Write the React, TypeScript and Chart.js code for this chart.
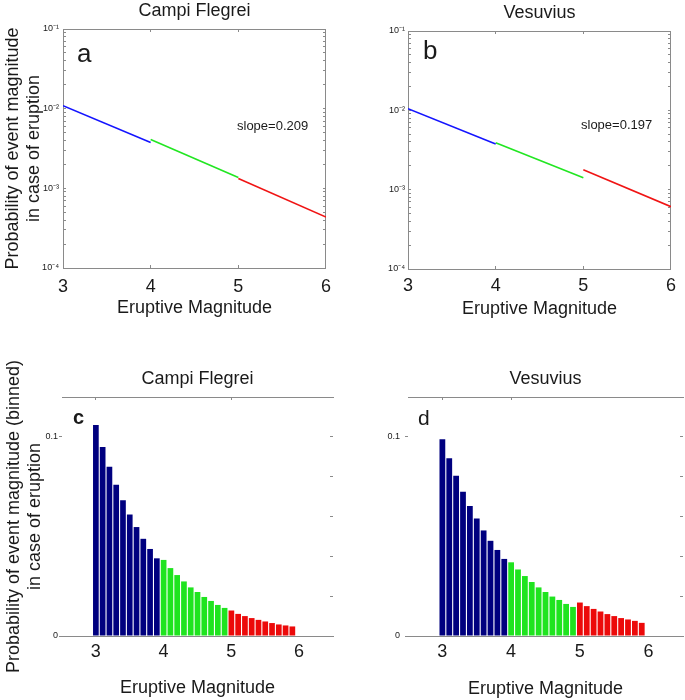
import React, { useEffect, useRef } from 'react';
import { Chart, registerables } from 'chart.js';

Chart.register(...registerables);

const FONT = '"Liberation Sans", Arial, Helvetica, sans-serif';
const TEXT = '#1a1a1a';
const AXIS = '#8a8a8a';

// ---- text ----
const volcanoes = ['Campi Flegrei', 'Vesuvius'];
const panelLetters = ['a', 'b', 'c', 'd'];
const slopeLabels = ['slope=0.209', 'slope=0.197'];
const xAxisTitle = 'Eruptive Magnitude';
const yTitleTop = ['Probability of event magnitude', 'in case of eruption'];
const yTitleBottom = ['Probability of event magnitude (binned)', 'in case of eruption'];

// ---- ticks ----
const magnitudeTicks = [3, 4, 5, 6];
const logMajorTicks = [1e-4, 1e-3, 1e-2, 1e-1];
const logTickLabels = ['10⁻⁴', '10⁻³', '10⁻²', '10⁻¹'];
const logMinorMantissas = [2, 3, 4, 5, 6, 7, 8, 9];
const binnedTickValues = [0, 0.1];
const binnedTickLabels = ['0', '0.1'];
const binnedMinorTicks = [0.02, 0.04, 0.06, 0.08, 0.1];
const topTicksC = [3, 5];
const topTicksD = [3, 4];

// ---- panels a, b: segment end points ----
const segBlueX = [3, 4];
const segGreenX = [4, 5];
const segRedX = [5, 6];
const cfBlue = [1.09e-2, 3.76e-3];
const cfGreen = [4.1e-3, 1.37e-3];
const cfRed = [1.33e-3, 4.35e-4];
const vesBlue = [1.05e-2, 3.76e-3];
const vesGreen = [3.9e-3, 1.41e-3];
const vesRed = [1.78e-3, 6.1e-4];

// ---- panels c, d: binned probabilities ----
const binsBlue = [3.0, 3.1, 3.2, 3.3, 3.4, 3.5, 3.6, 3.7, 3.8, 3.9];
const binsGreen = [4.0, 4.1, 4.2, 4.3, 4.4, 4.5, 4.6, 4.7, 4.8, 4.9];
const binsRed = [5.0, 5.1, 5.2, 5.3, 5.4, 5.5, 5.6, 5.7, 5.8, 5.9];
const cfBinBlue = [0.106, 0.0949, 0.085, 0.0759, 0.0681, 0.061, 0.0547, 0.0488, 0.0437, 0.039];
const cfBinGreen = [0.0382, 0.0341, 0.0306, 0.0274, 0.0244, 0.0221, 0.0196, 0.0176, 0.0156, 0.0141];
const cfBinRed = [0.0128, 0.0111, 0.01, 0.009, 0.0081, 0.0073, 0.0065, 0.0058, 0.0053, 0.0048];
const vesBinBlue = [0.0988, 0.0892, 0.0804, 0.0724, 0.0653, 0.059, 0.053, 0.0478, 0.0432, 0.0387];
const vesBinGreen = [0.037, 0.0334, 0.0301, 0.0271, 0.0244, 0.0221, 0.0198, 0.0181, 0.0161, 0.0146];
const vesBinRed = [0.0168, 0.015, 0.0136, 0.0123, 0.011, 0.01, 0.009, 0.0083, 0.0076, 0.0066];

const LINE_BLUE = '#1414ff';
const LINE_GREEN = '#22e622';
const LINE_RED = '#f01414';
const BAR_BLUE = '#00007f';
const BAR_GREEN = '#1fe41f';
const BAR_RED = '#ec0a0a';

const allLogTicks: number[] = [];
logMajorTicks.forEach((m, i) => {
  allLogTicks.push(m);
  if (i < logMajorTicks.length - 1) logMinorMantissas.forEach((k) => allLogTicks.push(k * m));
});

const f = (size: number, weight: string = 'normal') => ({ family: FONT, size, weight, lineHeight: 1.2 });

function setTicks(values: number[]) {
  return (s: any) => {
    s.ticks = values.map((v) => ({ value: v }));
  };
}

function textPlugin(items: { text: string; dx: number; dy: number; font: string }[]) {
  return {
    id: 'panelText',
    afterDraw(chart: any) {
      const { ctx, chartArea } = chart;
      ctx.save();
      ctx.fillStyle = TEXT;
      ctx.textAlign = 'left';
      ctx.textBaseline = 'alphabetic';
      items.forEach((it) => {
        ctx.font = it.font;
        ctx.fillText(it.text, chartArea.left + it.dx, chartArea.top + it.dy);
      });
      ctx.restore();
    },
  };
}

function logLabel(v: number) {
  const i = logMajorTicks.findIndex((m) => Math.abs(m - v) / m < 1e-6);
  return i >= 0 ? logTickLabels[i] : '';
}

function seg(xs: number[], ys: number[], color: string) {
  return {
    data: xs.map((x, i) => ({ x, y: ys[i] })),
    borderColor: color,
    backgroundColor: color,
    borderWidth: 1.6,
    pointRadius: 0,
    tension: 0,
    fill: false,
  };
}

function bars(xs: number[], ys: number[], color: string) {
  return {
    data: xs.map((x, i) => ({ x, y: ys[i] })),
    backgroundColor: color,
    borderWidth: 0,
    grouped: false,
    barPercentage: 0.84,
    categoryPercentage: 1,
  };
}

type Geo = {
  wl: number; wr: number; ht: number; hb: number;
  xtp: number; xtb: number; ttp: number; ytp: number;
};

function logConfig(title: string, blue: number[], green: number[], red: number[], g: Geo, showYTitle: boolean, texts: any[]) {
  return {
    type: 'line',
    data: { datasets: [seg(segBlueX, blue, LINE_BLUE), seg(segGreenX, green, LINE_GREEN), seg(segRedX, red, LINE_RED)] },
    options: {
      responsive: false,
      animation: false,
      devicePixelRatio: 1,
      layout: { padding: 0, autoPadding: false },
      plugins: { legend: { display: false }, tooltip: { enabled: false }, title: { display: false } },
      scales: {
        x: {
          type: 'linear', position: 'bottom', min: 3, max: 6,
          afterBuildTicks: setTicks(magnitudeTicks),
          afterFit: (s: any) => { s.height = g.hb; },
          ticks: { font: f(18), color: TEXT, padding: g.xtp, autoSkip: false, maxRotation: 0, callback: (v: number) => String(v) },
          grid: { drawOnChartArea: false, tickLength: -3, color: AXIS },
          border: { color: AXIS },
          title: { display: true, text: xAxisTitle, font: f(18), color: TEXT, padding: { top: 0, bottom: g.xtb } },
        },
        x2: {
          type: 'linear', position: 'top', min: 3, max: 6,
          afterBuildTicks: setTicks(magnitudeTicks),
          afterFit: (s: any) => { s.height = g.ht; },
          ticks: { display: false },
          grid: { drawOnChartArea: false, tickLength: -3, color: AXIS },
          border: { color: AXIS },
          title: { display: true, text: title, font: f(18), color: TEXT, padding: { top: g.ttp, bottom: 0 } },
        },
        y: {
          type: 'logarithmic', position: 'left', min: 1e-4, max: 1e-1,
          afterBuildTicks: setTicks(allLogTicks),
          afterFit: (s: any) => { s.width = g.wl; },
          ticks: { font: f(9), color: TEXT, padding: g.ytp, autoSkip: false, callback: logLabel },
          grid: { drawOnChartArea: false, tickLength: -3, color: AXIS },
          border: { color: AXIS },
          title: showYTitle
            ? { display: true, text: yTitleTop, font: f(18), color: TEXT, padding: { top: 2, bottom: 0 } }
            : { display: false },
        },
        y2: {
          type: 'logarithmic', position: 'right', min: 1e-4, max: 1e-1,
          afterBuildTicks: setTicks(allLogTicks),
          afterFit: (s: any) => { s.width = g.wr; },
          ticks: { display: false },
          grid: { drawOnChartArea: false, tickLength: -3, color: AXIS },
          border: { color: AXIS },
        },
      },
    },
    plugins: [textPlugin(texts)],
  };
}

function barConfig(title: string, blue: number[], green: number[], red: number[], topTicks: number[], g: Geo, showYTitle: boolean, texts: any[]) {
  return {
    type: 'bar',
    data: { datasets: [bars(binsBlue, blue, BAR_BLUE), bars(binsGreen, green, BAR_GREEN), bars(binsRed, red, BAR_RED)] },
    options: {
      responsive: false,
      animation: false,
      devicePixelRatio: 1,
      layout: { padding: 0, autoPadding: false },
      plugins: { legend: { display: false }, tooltip: { enabled: false }, title: { display: false } },
      scales: {
        x: {
          type: 'linear', position: 'bottom', min: 2.5, max: 6.5, offset: false,
          afterBuildTicks: setTicks(magnitudeTicks),
          afterFit: (s: any) => { s.height = g.hb; },
          ticks: { font: f(18), color: TEXT, padding: g.xtp, autoSkip: false, maxRotation: 0, callback: (v: number) => String(v) },
          grid: { display: false, drawTicks: false, tickLength: 0, offset: false },
          border: { display: true, color: AXIS },
          title: { display: true, text: xAxisTitle, font: f(18), color: TEXT, padding: { top: 0, bottom: g.xtb } },
        },
        x2: {
          type: 'linear', position: 'top', min: 2.5, max: 6.5, offset: false,
          afterBuildTicks: setTicks(topTicks),
          afterFit: (s: any) => { s.height = g.ht; },
          ticks: { display: false },
          grid: { drawOnChartArea: false, tickLength: -3, color: AXIS, offset: false },
          border: { color: AXIS },
          title: { display: true, text: title, font: f(18), color: TEXT, padding: { top: g.ttp, bottom: 0 } },
        },
        y: {
          type: 'linear', position: 'left', min: 0, max: 0.12,
          afterBuildTicks: setTicks(binnedTickValues),
          afterFit: (s: any) => { s.width = g.wl; },
          ticks: {
            font: f(9), color: TEXT, padding: g.ytp, autoSkip: false,
            callback: (v: number) => {
              const i = binnedTickValues.indexOf(v);
              return i >= 0 ? binnedTickLabels[i] : '';
            },
          },
          grid: { drawOnChartArea: false, tickLength: 3, color: AXIS },
          border: { display: false },
          title: showYTitle
            ? { display: true, text: yTitleBottom, font: f(18), color: TEXT, padding: { top: 3, bottom: 0 } }
            : { display: false },
        },
        y2: {
          type: 'linear', position: 'right', min: 0, max: 0.12,
          afterBuildTicks: setTicks(binnedMinorTicks),
          afterFit: (s: any) => { s.width = g.wr; },
          ticks: { display: false },
          grid: { drawOnChartArea: false, tickLength: -3, color: AXIS },
          border: { display: false },
        },
      },
    },
    plugins: [textPlugin(texts)],
  };
}

function Panel({ left, top, width, height, make }: { left: number; top: number; width: number; height: number; make: () => any }) {
  const ref = useRef<HTMLCanvasElement | null>(null);
  useEffect(() => {
    const chart = new Chart(ref.current as HTMLCanvasElement, make());
    return () => chart.destroy();
  }, []);
  return (
    <canvas
      ref={ref}
      width={width}
      height={height}
      style={{ position: 'absolute', left, top, width, height, display: 'block' }}
    />
  );
}

export default function App() {
  const big = `normal 26px ${FONT}`;
  const slopeFont = `normal 13px ${FONT}`;
  return (
    <div style={{ position: 'absolute', left: 0, top: 0, width: 685, height: 700, background: '#fff', overflow: 'hidden' }}>
      <Panel
        left={0} top={0} width={342} height={330}
        make={() =>
          logConfig(volcanoes[0], cfBlue, cfGreen, cfRed,
            { wl: 63, wr: 9, ht: 29, hb: 62, xtp: 11, xtb: 11, ttp: 0, ytp: 7 }, true,
            [
              { text: panelLetters[0], dx: 14, dy: 33, font: big },
              { text: slopeLabels[0], dx: 174, dy: 101, font: slopeFont },
            ])
        }
      />
      <Panel
        left={342} top={0} width={343} height={330}
        make={() =>
          logConfig(volcanoes[1], vesBlue, vesGreen, vesRed,
            { wl: 66, wr: 5, ht: 31, hb: 61, xtp: 9, xtb: 10, ttp: 2, ytp: 6 }, false,
            [
              { text: panelLetters[1], dx: 15, dy: 28, font: big },
              { text: slopeLabels[1], dx: 173, dy: 98, font: slopeFont },
            ])
        }
      />
      <Panel
        left={0} top={345} width={342} height={355}
        make={() =>
          barConfig(volcanoes[0], cfBinBlue, cfBinGreen, cfBinRed, topTicksC,
            { wl: 62, wr: 9, ht: 52, hb: 64, xtp: 5, xtb: 1, ttp: 23, ytp: 1 }, true,
            [{ text: panelLetters[2], dx: 11, dy: 27, font: `bold 20px ${FONT}` }])
        }
      />
      <Panel
        left={342} top={345} width={343} height={355}
        make={() =>
          barConfig(volcanoes[1], vesBinBlue, vesBinGreen, vesBinRed, topTicksD,
            { wl: 66, wr: 2, ht: 52, hb: 64, xtp: 5, xtb: 0, ttp: 23, ytp: 5 }, false,
            [{ text: panelLetters[3], dx: 10, dy: 28, font: `normal 21px ${FONT}` }])
        }
      />
    </div>
  );
}
